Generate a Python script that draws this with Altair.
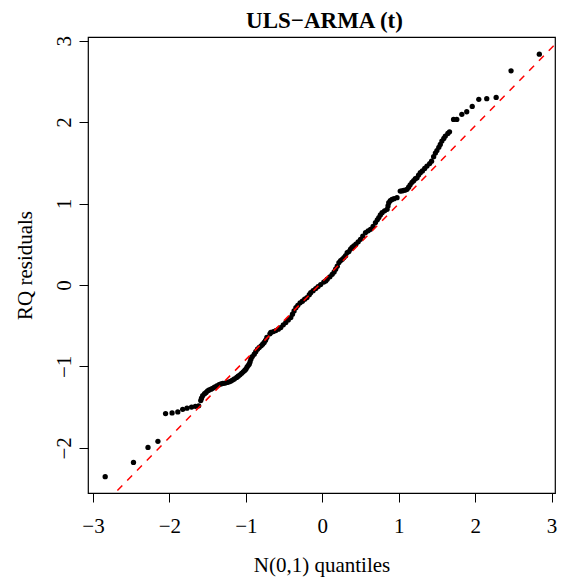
import altair as alt
import pandas as pd

# ---- data ----
theoretical = [
    -2.84, -2.47, -2.28, -2.15, -2.05, -1.965, -1.89, -1.826, -1.77, -1.71,
    -1.66, -1.617, -1.59, -1.58, -1.565, -1.54, -1.52, -1.50, -1.48, -1.455,
    -1.435, -1.41, -1.38, -1.35, -1.325, -1.30, -1.27, -1.245, -1.217, -1.195,
    -1.174, -1.15, -1.12, -1.10, -1.077, -1.055, -1.034, -1.015, -1.0, -0.985,
    -0.97, -0.956, -0.945, -0.934, -0.915, -0.89, -0.87, -0.848, -0.825, -0.80,
    -0.78, -0.76, -0.742, -0.725, -0.685, -0.673, -0.64, -0.608, -0.575, -0.543,
    -0.51, -0.477, -0.445, -0.412, -0.39, -0.369, -0.345, -0.32, -0.29, -0.26,
    -0.23, -0.20, -0.17, -0.151, -0.12, -0.086, -0.055, -0.021, 0.02, 0.045,
    0.065, 0.10, 0.13, 0.155, 0.175, 0.196, 0.218, 0.24, 0.261, 0.283,
    0.305, 0.326, 0.348, 0.37, 0.39, 0.413, 0.44, 0.47, 0.50, 0.53,
    0.566, 0.60, 0.631, 0.665, 0.696, 0.72, 0.74, 0.76, 0.783, 0.815,
    0.848, 0.86, 0.87, 0.89, 0.913, 0.94, 0.978, 1.02, 1.044, 1.066,
    1.088, 1.109, 1.13, 1.15, 1.174, 1.196, 1.218, 1.24, 1.26, 1.283,
    1.31, 1.34, 1.37, 1.405, 1.43, 1.457, 1.48, 1.50, 1.525, 1.544,
    1.565, 1.59, 1.61, 1.643, 1.665, 1.718, 1.76, 1.826, 1.89, 1.962,
    2.048, 2.152, 2.275, 2.47, 2.84,
]
residuals = [
    -2.355, -2.18, -1.995, -1.92, -1.58, -1.572, -1.56, -1.527, -1.513, -1.50,
    -1.49, -1.485, -1.42, -1.39, -1.36, -1.335, -1.32, -1.30, -1.29, -1.28,
    -1.27, -1.255, -1.24, -1.225, -1.215, -1.21, -1.205, -1.197, -1.19, -1.18,
    -1.168, -1.155, -1.136, -1.12, -1.104, -1.085, -1.067, -1.05, -1.034, -1.01,
    -0.99, -0.973, -0.945, -0.912, -0.88, -0.85, -0.82, -0.789, -0.768, -0.748,
    -0.728, -0.707, -0.68, -0.645, -0.60, -0.584, -0.572, -0.56, -0.543, -0.523,
    -0.49, -0.461, -0.43, -0.40, -0.36, -0.32, -0.28, -0.25, -0.22, -0.20,
    -0.175, -0.155, -0.12, -0.095, -0.07, -0.044, -0.02, 0.005, 0.035, 0.05,
    0.07, 0.10, 0.13, 0.16, 0.193, 0.23, 0.275, 0.30, 0.315, 0.336,
    0.36, 0.397, 0.41, 0.44, 0.46, 0.479, 0.50, 0.53, 0.56, 0.60,
    0.643, 0.665, 0.683, 0.72, 0.766, 0.80, 0.827, 0.86, 0.888, 0.91,
    0.929, 0.97, 1.01, 1.035, 1.05, 1.06, 1.072, 1.153, 1.155, 1.162,
    1.165, 1.174, 1.20, 1.23, 1.26, 1.28, 1.305, 1.315, 1.35, 1.379,
    1.40, 1.43, 1.46, 1.49, 1.52, 1.575, 1.62, 1.65, 1.69, 1.726,
    1.767, 1.80, 1.828, 1.86, 1.88, 2.033, 2.033, 2.095, 2.127, 2.193,
    2.279, 2.287, 2.303, 2.63, 2.834,
]
line_intercept = 0.04
line_slope = 0.957
x_ticks = [-3, -2, -1, 0, 1, 2, 3]
y_ticks = [-2, -1, 0, 1, 2, 3]
x_domain = [-3.065, 3.045]
y_domain = [-2.555, 3.045]
title_text = ["ULS\u2212ARMA (t)"]

W, H = 467, 456
FONT = "Liberation Serif"

pts = pd.DataFrame({"q": theoretical, "r": residuals})
ref = pd.DataFrame({"q": x_domain,
                    "r": [line_intercept + line_slope * v for v in x_domain]})
ttl = pd.DataFrame({"t": title_text})

xs = alt.Scale(domain=x_domain, nice=False, zero=False)
ys = alt.Scale(domain=y_domain, nice=False, zero=False)

x_axis = alt.Axis(
    values=x_ticks, format="d", title="N(0,1) quantiles", grid=False, domain=False,
    tickSize=9, tickColor="black", tickWidth=1,
    labelFont=FONT, labelFontSize=21, labelColor="black",
    labelBaseline="alphabetic", labelPadding=30, labelFlush=False,
    labelOverlap=False,
    titleFont=FONT, titleFontSize=21, titleFontWeight="normal",
    titleColor="black", titleBaseline="alphabetic", titleAlign="center",
    titleX=W / 2, titleY=78,
)
y_axis = alt.Axis(
    values=y_ticks, format="d", title="RQ residuals", grid=False, domain=False,
    tickSize=9, tickColor="black", tickWidth=1,
    labelFont=FONT, labelFontSize=21, labelColor="black",
    labelAngle=270, labelAlign="center", labelBaseline="alphabetic",
    labelPadding=9, labelFlush=False, labelOverlap=False,
    titleFont=FONT, titleFontSize=21, titleFontWeight="normal",
    titleColor="black", titleAngle=270, titleBaseline="alphabetic",
    titleAlign="center", titleX=-56.6, titleY=H / 2,
)

points = alt.Chart(pts).mark_circle(size=28, color="black", opacity=1).encode(
    x=alt.X("q:Q", scale=xs, axis=x_axis),
    y=alt.Y("r:Q", scale=ys, axis=y_axis),
)
qqline = alt.Chart(ref).mark_line(
    color="#FF0000", strokeDash=[7, 7], strokeWidth=1.5, clip=True
).encode(
    x=alt.X("q:Q", scale=xs),
    y=alt.Y("r:Q", scale=ys),
)
title = alt.Chart(ttl).mark_text(
    font=FONT, fontSize=23, fontWeight="bold", color="black",
    align="center", baseline="alphabetic",
).encode(
    text="t:N",
    x=alt.value(W / 2 + 3),
    y=alt.value(-9),
)

chart = alt.layer(points, qqline, title).properties(
    width=W, height=H,
    autosize=alt.AutoSizeParams(type="none"),
    padding={"left": 80, "top": 29, "right": 4, "bottom": 85},
).configure_view(stroke="black", strokeWidth=1.2)

chart.save("out.html", embed_options={"renderer": "svg", "actions": False})
